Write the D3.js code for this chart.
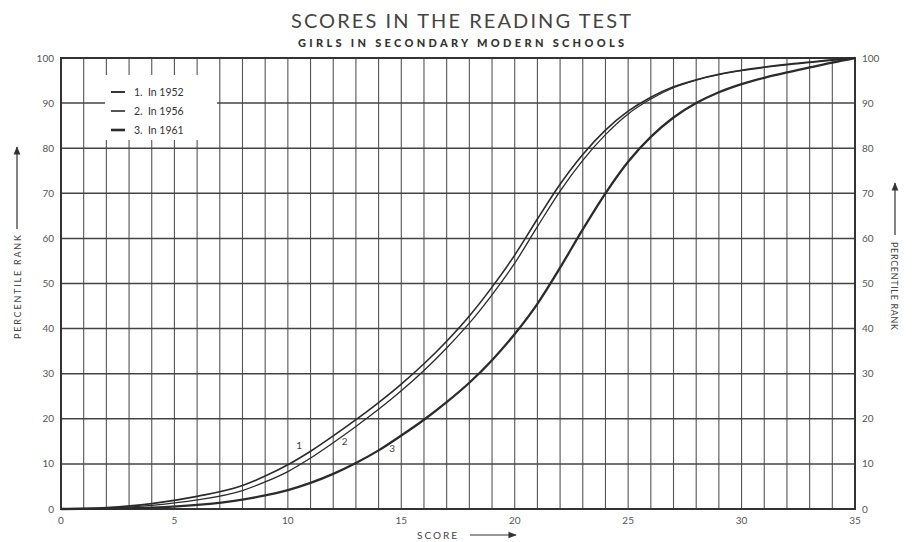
<!DOCTYPE html>
<html>
<head>
<meta charset="utf-8">
<script src="https://cdn.jsdelivr.net/npm/d3@7"></script>
<style>
  body { margin: 0; background: #fff; }
  svg { display: block; font-family: Lato, "Open Sans", sans-serif; }
</style>
</head>
<body>
<svg id="chart" width="914" height="542"></svg>
<script>
// values
const scores = [0, 2, 4, 6, 8, 9, 10, 11, 12, 13, 14, 15, 16, 17, 18, 19, 20, 21, 22, 23, 24, 25, 26, 27, 28, 29, 30, 31, 32, 33, 34, 35];
const rank1952 = [0, 0.3, 1.2, 2.8, 5.2, 7.3, 9.8, 12.8, 16.2, 19.8, 23.6, 27.7, 32.2, 37.2, 42.8, 49.2, 56.3, 64.3, 72, 78.6, 84, 88.2, 91.3, 93.6, 95.2, 96.4, 97.3, 98, 98.6, 99.1, 99.6, 100];
const rank1956 = [0, 0.2, 0.8, 2, 4.1, 6, 8.3, 11.3, 14.7, 18.3, 22.1, 26.2, 30.7, 35.7, 41.2, 47.5, 54.5, 62.6, 70.5, 77.3, 83, 87.6, 90.9, 93.4, 95.1, 96.3, 97.2, 97.9, 98.5, 99, 99.5, 100];
const rank1961 = [0, 0.1, 0.3, 0.9, 2.1, 3, 4.2, 5.8, 7.8, 10.2, 13, 16.3, 19.8, 23.7, 28, 33, 38.8, 45.5, 53.5, 62, 70, 77, 82.5, 86.8, 90, 92.4, 94.2, 95.6, 96.8, 97.9, 99, 100];

const seriesNames = ["1.  In 1952", "2.  In 1956", "3.  In 1961"];
const curveLabels = ["1", "2", "3"];
const curveLabelX = [10.5, 12.5, 14.6];
const curveLabelY = [13.2, 14.3, 12.6];

const xTicks = [0, 5, 10, 15, 20, 25, 30, 35];
const yTicks = [0, 10, 20, 30, 40, 50, 60, 70, 80, 90, 100];

const ink = "#2b2b2b";
const widths = [1.6, 1.3, 2.3];

function drawChart() {
    var svg = d3.select("#chart");
    var pLeft = 61, pRight = 855, pTop = 58, pBottom = 509;

    var x = d3.scaleLinear().domain([0, 35]).range([pLeft, pRight]);
    var y = d3.scaleLinear().domain([0, 100]).range([pBottom, pTop]);

    // legend box sits over the grid
    var legendBox = {x0: 105, x1: 217, y0: 75, y1: 140};

    // vertical grid, one line per score point
    d3.range(1, 35).forEach(s => {
        svg.append("line")
            .attr("x1", x(s)).attr("x2", x(s))
            .attr("y1", pTop).attr("y2", pBottom)
            .attr("stroke", "#555")
            .attr("stroke-width", 1.1);
    });
    // horizontal grid at each 10
    yTicks.slice(1, -1).forEach(t => {
        svg.append("line")
            .attr("x1", pLeft).attr("x2", pRight)
            .attr("y1", y(t)).attr("y2", y(t))
            .attr("stroke", "#444")
            .attr("stroke-width", 1.5);
    });

    // white patch for the legend
    svg.append("rect")
        .attr("x", legendBox.x0).attr("y", legendBox.y0)
        .attr("width", legendBox.x1 - legendBox.x0)
        .attr("height", legendBox.y1 - legendBox.y0)
        .attr("fill", "#fff");

    // frame
    svg.append("rect")
        .attr("x", pLeft).attr("y", pTop)
        .attr("width", pRight - pLeft).attr("height", pBottom - pTop)
        .attr("fill", "none")
        .attr("stroke", "#333")
        .attr("stroke-width", 2);

    // curves
    let line = d3.line()
        .x(d => x(d[0]))
        .y(d => y(d[1]))
        .curve(d3.curveMonotoneX);

    [rank1952, rank1956, rank1961].forEach((vals, i) => {
        svg.append("path")
            .datum(scores.map((s, j) => [s, vals[j]]))
            .attr("d", line)
            .attr("fill", "none")
            .attr("stroke", ink)
            .attr("stroke-width", widths[i]);
    });

    // little numbers on the curves
    curveLabels.forEach((lab, i) => {
        svg.append("text")
            .attr("x", x(curveLabelX[i]))
            .attr("y", y(curveLabelY[i]))
            .attr("text-anchor", "middle")
            .style("font-size", "10px")
            .attr("fill", "#444")
            .text(lab);
    });

    // legend
    seriesNames.forEach((name, i) => {
        let ly = 92 + i * 19;
        svg.append("line")
            .attr("x1", 111).attr("x2", 125)
            .attr("y1", ly).attr("y2", ly)
            .attr("stroke", ink)
            .attr("stroke-width", widths[i] + 0.3);
        svg.append("text")
            .attr("x", 134)
            .attr("y", ly + 4)
            .style("font-size", "10.5px")
            .attr("fill", "#333")
            .attr("xml:space", "preserve")
            .text(name);
    });

    // tick labels
    yTicks.forEach(t => {
        svg.append("text")
            .attr("x", 54).attr("y", y(t) + 3.5)
            .attr("text-anchor", "end")
            .style("font-size", "10px")
            .attr("fill", "#555")
            .text(t);
        svg.append("text")
            .attr("x", 862).attr("y", y(t) + 3.5)
            .attr("text-anchor", "start")
            .style("font-size", "10px")
            .attr("fill", "#555")
            .text(t);
    });
    xTicks.forEach(t => {
        svg.append("text")
            .attr("x", x(t)).attr("y", 524)
            .attr("text-anchor", "middle")
            .style("font-size", "10px")
            .attr("fill", "#555")
            .text(t);
    });

    // titles
    svg.append("text")
        .attr("x", 461).attr("y", 28)
        .attr("text-anchor", "middle")
        .attr("textLength", 340)
        .attr("lengthAdjust", "spacing")
        .style("font-size", "20px")
        .attr("fill", "#444")
        .text("SCORES IN THE READING TEST");
    svg.append("text")
        .attr("x", 461).attr("y", 47)
        .attr("text-anchor", "middle")
        .attr("textLength", 326)
        .attr("lengthAdjust", "spacing")
        .style("font-size", "11px")
        .style("font-weight", "900")
        .attr("fill", "#333")
        .text("GIRLS IN SECONDARY MODERN SCHOOLS");

    // axis titles with arrows
    svg.append("defs").append("marker")
        .attr("id", "head")
        .attr("viewBox", "0 0 10 10")
        .attr("refX", 9).attr("refY", 5)
        .attr("markerWidth", 7).attr("markerHeight", 7)
        .attr("orient", "auto")
        .append("path")
        .attr("d", "M0,1 L10,5 L0,9 Z")
        .attr("fill", "#333");

    svg.append("text")
        .attr("transform", "translate(21,287) rotate(-90)")
        .attr("text-anchor", "middle")
        .attr("textLength", 104)
        .attr("lengthAdjust", "spacing")
        .style("font-size", "9px")
        .attr("fill", "#444")
        .text("PERCENTILE RANK");
    svg.append("line")
        .attr("x1", 17).attr("x2", 17)
        .attr("y1", 229).attr("y2", 147)
        .attr("stroke", "#333").attr("stroke-width", 1.2)
        .attr("marker-end", "url(#head)");

    svg.append("text")
        .attr("transform", "translate(891,286) rotate(90)")
        .attr("text-anchor", "middle")
        .attr("textLength", 88)
        .attr("lengthAdjust", "spacing")
        .style("font-size", "9px")
        .attr("fill", "#444")
        .text("PERCENTILE RANK");
    svg.append("line")
        .attr("x1", 895).attr("x2", 895)
        .attr("y1", 235).attr("y2", 183)
        .attr("stroke", "#333").attr("stroke-width", 1.2)
        .attr("marker-end", "url(#head)");

    svg.append("text")
        .attr("x", 417).attr("y", 539)
        .attr("textLength", 40)
        .attr("lengthAdjust", "spacing")
        .style("font-size", "10px")
        .attr("fill", "#444")
        .text("SCORE");
    svg.append("line")
        .attr("x1", 470).attr("x2", 516)
        .attr("y1", 535).attr("y2", 535)
        .attr("stroke", "#333").attr("stroke-width", 1.2)
        .attr("marker-end", "url(#head)");
}

drawChart();
</script>
</body>
</html>
